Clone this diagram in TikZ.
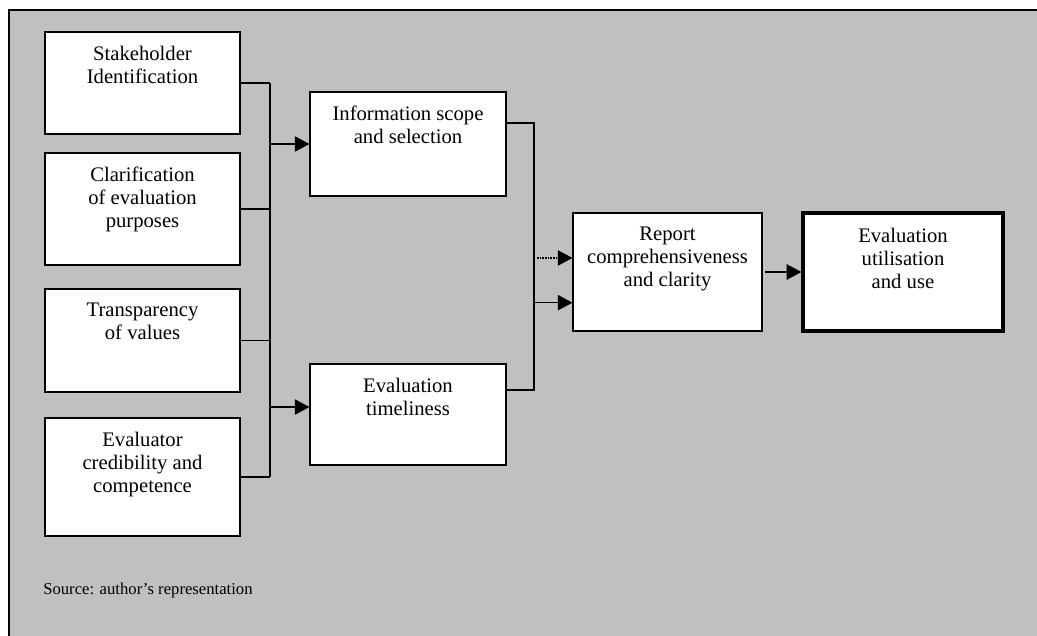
\documentclass[tikz,border=0pt]{standalone}
\usepackage{fontspec}
\setmainfont{Liberation Serif}
\usetikzlibrary{positioning,arrows.meta,calc}
\definecolor{panelgray}{HTML}{C0C0C0}

\begin{document}
\begin{tikzpicture}[
  x=0.75pt,y=-0.75pt,
  every node/.style={font=\fontsize{15.5}{17.25}\selectfont},
  box/.style 2 args={draw,fill=white,line width=0.8pt,inner sep=0pt,
    minimum width=#1*0.75pt,minimum height=#2*0.75pt},
  txt/.style={align=center,inner sep=0pt,anchor=north,yshift=-10.5pt},
  link/.style={line width=0.9pt},
  feed/.style={-{Triangle[length=11pt,width=11.5pt]},line width=0.9pt},
  hint/.style={-{Triangle[length=11pt,width=11.5pt]},line width=0.8pt,dash pattern=on 1.2pt off 0.8pt}
]
  \useasboundingbox (0,0) rectangle (1037,635);
  \fill[panelgray] (9,10) rectangle (1045,645);
  \draw[line width=1.1pt] (1045,10) -- (9,10) -- (9,645);

  \node[box={195}{102}] (stake)  at (142.5,83)  {};
  \node[box={195}{112}] (clarif) at (142.5,209) {};
  \node[box={195}{103}] (transp) at (142.5,340.5) {};
  \node[box={195}{118}] (evalr)  at (142.5,477) {};
  \node[box={196}{104}] (info)   at (408,144)   {};
  \node[box={196}{101}] (timely) at (408,414.5) {};
  \node[box={189}{118}] (report) at (667.5,272) {};
  \node[box={200}{118},line width=2.4pt] (use) at (903,272) {};

  \node[txt] (stakeT)  at (stake.north)  {Stakeholder\\Identification};
  \node[txt] (clarifT) at (clarif.north) {Clarification\\of evaluation\\purposes};
  \node[txt] (transpT) at (transp.north) {Transparency\\of values};
  \node[txt] (evalrT)  at (evalr.north)  {Evaluator\\credibility and\\competence};
  \node[txt] (infoT)   at (info.north)   {Information scope\\and selection};
  \node[txt] (timelyT) at (timely.north) {Evaluation\\timeliness};
  \node[txt] (reportT) at (report.north) {Report\\comprehensiveness\\and clarity};
  \node[txt,yshift=-2pt] (useT) at (use.north) {Evaluation\\utilisation\\and use};

  \node[anchor=west,inner sep=0pt,font=\fontsize{12.5}{14}\selectfont] (source) at (43,590)
    {Source: author’s representation};

  \coordinate (busL) at (270,0);
  \coordinate (busR) at (534,0);
  \coordinate (outI) at ([yshift=15.75pt]info.east);
  \coordinate (outT) at ([yshift=18.4pt]timely.east);
  \coordinate (inT)  at ([yshift=5.6pt]timely.west);
  \coordinate (inRa) at ([yshift=10.5pt]report.west);
  \coordinate (inRb) at ([yshift=-23pt]report.west);
  \coordinate (dotS) at ($(inRa -| busR)+(3,0)$);

  \foreach \b in {stake,clarif,transp,evalr} \draw[link] (\b.east) -- (\b.east -| busL);
  \draw[link] (stake.east -| busL) -- (evalr.east -| busL);
  \draw[feed] (busL |- info.west) -- (info.west);
  \draw[feed] (inT -| busL) -- (inT);

  \draw[link] (outI) -- (outI -| busR) -- (outT -| busR) -- (outT);
  \draw[hint] (dotS) -- (inRa);
  \draw[feed] (inRb -| busR) -- (inRb);
  \draw[feed] ([xshift=2pt]report.east) -- (use.west);
\end{tikzpicture}
\end{document}
